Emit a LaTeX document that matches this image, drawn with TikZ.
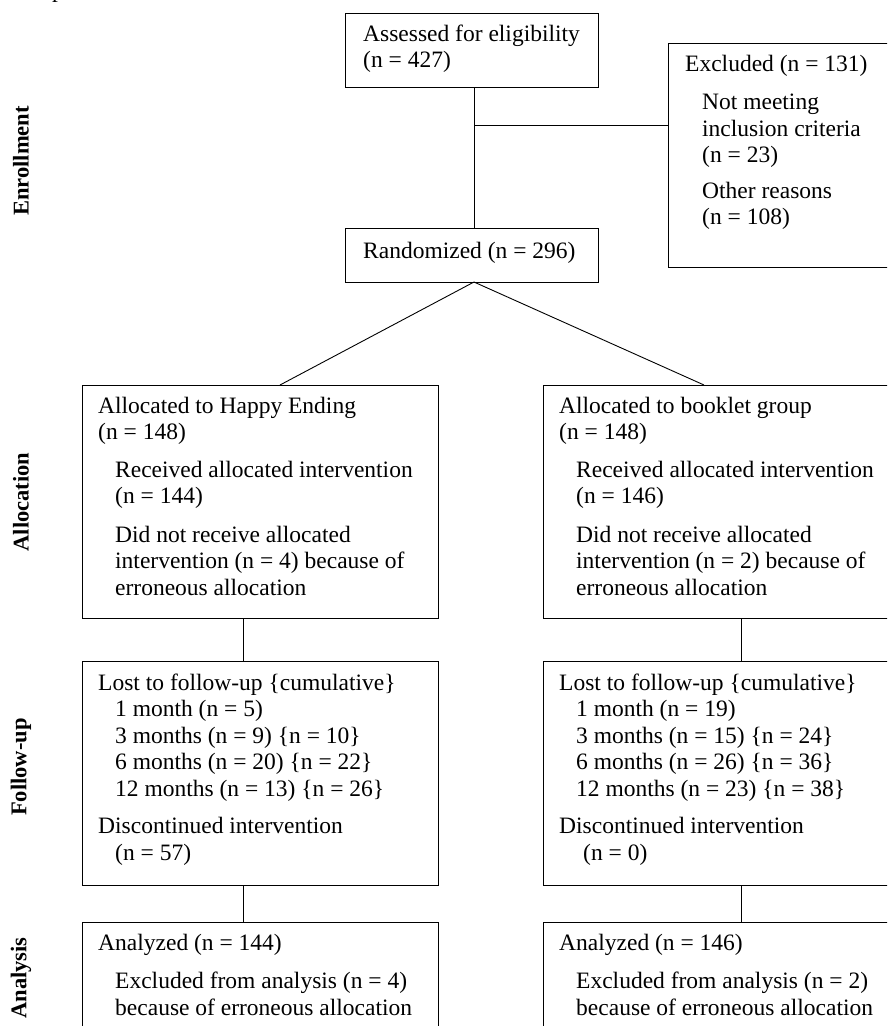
\documentclass[tikz,border=0pt]{standalone}
\usepackage{fontspec}
\setmainfont{Liberation Serif}
\usetikzlibrary{positioning}

\tikzset{
  box/.style={draw, line width=1.4pt, inner sep=0pt, anchor=north west},
  txt/.style={inner sep=0pt, anchor=base west,
              font=\fontsize{23.5}{26.5}\selectfont},
  link/.style={line width=0.9pt},
  phase/.style={rotate=90, inner sep=0pt, font=\fontsize{22.5}{26}\selectfont\bfseries}
}
\newcommand{\ind}{\hspace*{17pt}}
\newcommand{\rows}[1]{\begin{tabular}[t]{@{}l@{}}#1\end{tabular}}

\begin{document}
\begin{tikzpicture}[x=1pt, y=-1pt]
            \useasboundingbox (0,0) rectangle (887,1026);
            \clip (0,0) rectangle (887,1026);

            % draw the boxes
            \node[box, minimum width=253pt, minimum height=74pt]  (assess) at (345,13)  {};
            \node[box, minimum width=240pt, minimum height=224pt] (excl)   at (668,43)  {};
            \node[box, minimum width=253pt, minimum height=54pt]  (rand)   at (345,228) {};
            \node[box, minimum width=356pt, minimum height=233pt] (allocL) at (82,385)  {};
            \node[box, minimum width=356pt, minimum height=233pt] (allocR) at (543,385) {};
            \node[box, minimum width=356pt, minimum height=224pt] (fupL)   at (82,661)  {};
            \node[box, minimum width=356pt, minimum height=224pt] (fupR)   at (543,661) {};
            \node[box, minimum width=356pt, minimum height=130pt] (anaL)   at (82,922)  {};
            \node[box, minimum width=356pt, minimum height=130pt] (anaR)   at (543,922) {};

            % write the texts
            \node[txt] (assesstxt) at (363,41) {\rows{Assessed for eligibility\\(n = 427)}};
            \node[txt] (excltxt) at (685,71) {\rows{Excluded (n = 131)\\[12pt]
                \ind Not meeting\\ \ind inclusion criteria\\ \ind (n = 23)\\[9pt]
                \ind Other reasons\\ \ind (n = 108)}};
            \node[txt] (randtxt) at (363,258) {Randomized (n = 296)};
            \node[txt] (allocLtxt) at (98,413) {\rows{Allocated to Happy Ending\\(n = 148)\\[11pt]
                \ind Received allocated intervention\\ \ind (n = 144)\\[12pt]
                \ind Did not receive allocated\\ \ind intervention (n = 4) because of\\ \ind erroneous allocation}};
            \node[txt] (allocRtxt) at (559,413) {\rows{Allocated to booklet group\\(n = 148)\\[11pt]
                \ind Received allocated intervention\\ \ind (n = 146)\\[12pt]
                \ind Did not receive allocated\\ \ind intervention (n = 2) because of\\ \ind erroneous allocation}};
            \node[txt] (fupLtxt) at (98,690) {\rows{Lost to follow-up \{cumulative\}\\
                \ind 1 month (n = 5)\\ \ind 3 months (n = 9) \{n = 10\}\\
                \ind 6 months (n = 20) \{n = 22\}\\ \ind 12 months (n = 13) \{n = 26\}\\[11pt]
                Discontinued intervention\\ \ind (n = 57)}};
            \node[txt] (fupRtxt) at (559,690) {\rows{Lost to follow-up \{cumulative\}\\
                \ind 1 month (n = 19)\\ \ind 3 months (n = 15) \{n = 24\}\\
                \ind 6 months (n = 26) \{n = 36\}\\ \ind 12 months (n = 23) \{n = 38\}\\[11pt]
                Discontinued intervention\\ \hspace*{24pt}(n = 0)}};
            \node[txt] (anaLtxt) at (98,950) {\rows{Analyzed (n = 144)\\[12pt]
                \ind Excluded from analysis (n = 4)\\ \ind because of erroneous allocation}};
            \node[txt] (anaRtxt) at (559,950) {\rows{Analyzed (n = 146)\\[12pt]
                \ind Excluded from analysis (n = 2)\\ \ind because of erroneous allocation}};
            \node[txt] (frag) at (52,-3) {p};

            % phase labels
            \node[phase] (enrol)  at (21,161) {Enrollment};
            \node[phase] (alloc)  at (21,502) {Allocation};
            \node[phase] (follow) at (21,767) {Follow-up};
            \node[phase] (anal)   at (21,978) {Analysis};

            % draw the links
            \coordinate (branch) at (474,125);
            \draw[link] (assess.south -| branch) -- (rand.north -| branch);
            \draw[link] (branch) -- (branch -| excl.west);
            \coordinate (apex) at (474,282);
            \draw[link] (apex) -- (allocL.north -| 280,0);
            \draw[link] (apex) -- (allocR.north -| 704,0);
            \draw[link] (allocL.south -| 243,0) -- (fupL.north -| 243,0);
            \draw[link] (allocR.south -| 741,0) -- (fupR.north -| 741,0);
            \draw[link] (fupL.south -| 243,0) -- (anaL.north -| 243,0);
            \draw[link] (fupR.south -| 741,0) -- (anaR.north -| 741,0);
        \end{tikzpicture}
\end{document}
